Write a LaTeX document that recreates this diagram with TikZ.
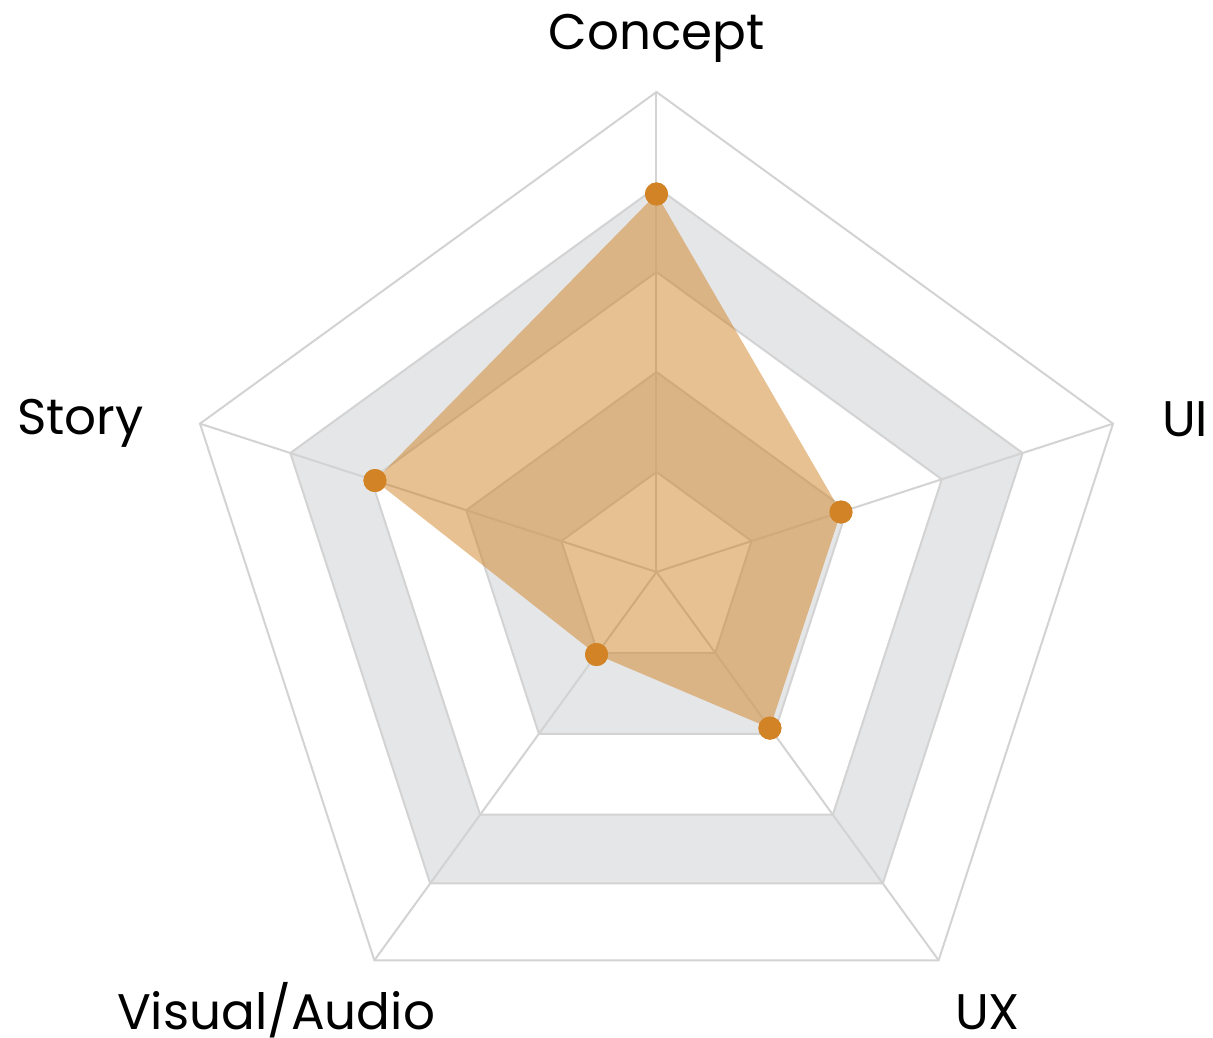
\documentclass[tikz,border=0pt]{standalone}
\usepackage{fontspec}
\setmainfont{Poppins}
\usetikzlibrary{positioning}
\definecolor{gridline}{RGB}{211,211,211}
\definecolor{band}{RGB}{229,230,231}
\definecolor{score}{RGB}{209,131,37}
\newcommand\pentagon[1]{(90:#1)--(18:#1)--(-54:#1)--(-126:#1)--(162:#1)--cycle}

\begin{document}
\begin{tikzpicture}[x=1pt,y=1pt]
  \tikzstyle{ring}=[draw=gridline,line width=2pt,line join=miter]
  \tikzstyle{axislabel}=[font=\fontsize{50}{60}\selectfont,inner sep=0pt]
  \tikzstyle{dot}=[circle,fill=score,inner sep=0pt,minimum size=23pt]
  \useasboundingbox (-656.5,-466) rectangle (556.5,572);

  % shaded bands of the grid
  \fill[band,even odd rule] \pentagon{385} \pentagon{300} \pentagon{200} \pentagon{100};

  % rings and spokes
  \coordinate (hub) at (0,0);
  \foreach \r in {100,200,300,385,480}
    \draw[ring] \pentagon{\r};
  \foreach \a/\n in {90/concept,18/ui,-54/ux,-126/visual,162/story} {
    \coordinate (end-\n) at (\a:480);
    \draw[ring] (hub) -- (end-\n);
  }

  % scores
  \node[dot] (v-concept) at (90:378) {};
  \node[dot] (v-ui) at (18:194) {};
  \node[dot] (v-ux) at (-54:193) {};
  \node[dot] (v-visual) at (-126:102) {};
  \node[dot] (v-story) at (162:296) {};
  \fill[score,opacity=0.5] (v-concept.center) -- (v-ui.center) -- (v-ux.center)
    -- (v-visual.center) -- (v-story.center) -- cycle;
  \foreach \n in {concept,ui,ux,visual,story}
    \fill[score] (v-\n) circle (11.5);

  % axis labels
  \node[axislabel,anchor=base] (l-concept) at (0,522) {Concept};
  \node[axislabel,anchor=base west] (l-ui) at (505.5,135) {UI};
  \node[axislabel,anchor=base west] (l-ux) at (298.5,-457) {UX};
  \node[axislabel,anchor=base west] (l-visual) at (-539.5,-457) {Visual/Audio};
  \node[axislabel,anchor=base west] (l-story) at (-639.5,137) {Story};
\end{tikzpicture}
\end{document}
